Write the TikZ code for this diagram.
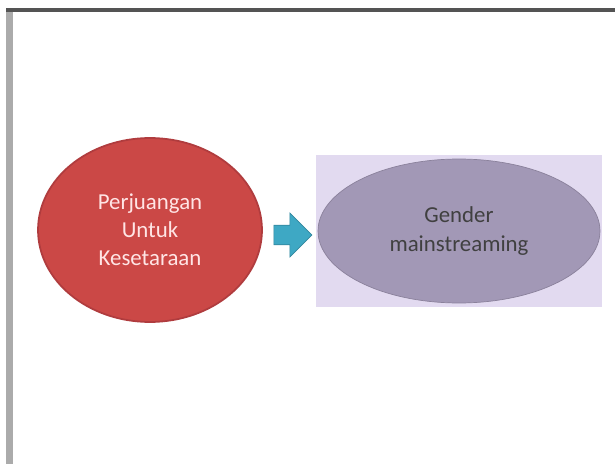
\documentclass[tikz,border=0pt]{standalone}
\usepackage{fontspec}
\setmainfont{Carlito}
\usetikzlibrary{positioning}
\usetikzlibrary{shapes.geometric,shapes.arrows}
\definecolor{redfill}{RGB}{203,72,70}
\definecolor{rededge}{RGB}{176,60,62}
\definecolor{arrowfill}{RGB}{62,168,196}
\definecolor{lavback}{RGB}{226,218,240}
\definecolor{purpfill}{RGB}{162,152,182}
\tikzset{x=0.02cm, y=0.02cm, % one unit is one pixel of the reference
      every node/.style={font=\fontsize{13}{16}\selectfont, align=center},
      redblob/.style={ % Left ellipse
      ellipse, draw=rededge, line width=1pt, fill=redfill,
      text=red!10, inner sep=0pt,
      minimum width=4.48cm, minimum height=3.68cm},
      pointer/.style={ % Small block arrow
      single arrow, fill=arrowfill, draw=arrowfill!80!black,
      minimum height=0.76cm, minimum width=0.88cm, inner sep=1pt,
      single arrow head extend=1.5pt},
      purpblob/.style={ % Right ellipse
      ellipse, fill=purpfill, draw=purpfill!85!black,
      text=black!75, inner sep=0pt,
      minimum width=5.64cm, minimum height=2.88cm}}

\begin{document}
\begin{tikzpicture}
      \useasboundingbox (0,0) rectangle (615,464);
      % frame lines
      \draw[line width=0.08cm, draw=black!67] (6,454) -- (615,454);
      \draw[line width=0.14cm, draw=black!33] (9.5,452) -- (9.5,0);
      % boxes
      \fill[lavback] (316,157) rectangle (602,309);
      \node[redblob] (fight) at (150,234) {Perjuangan\\Untuk\\Kesetaraan};
      \node[purpblob] (gender) at (459,233) {Gender\\mainstreaming};
      \node[pointer] (arrow) at (288,229) {};
\end{tikzpicture}
\end{document}
